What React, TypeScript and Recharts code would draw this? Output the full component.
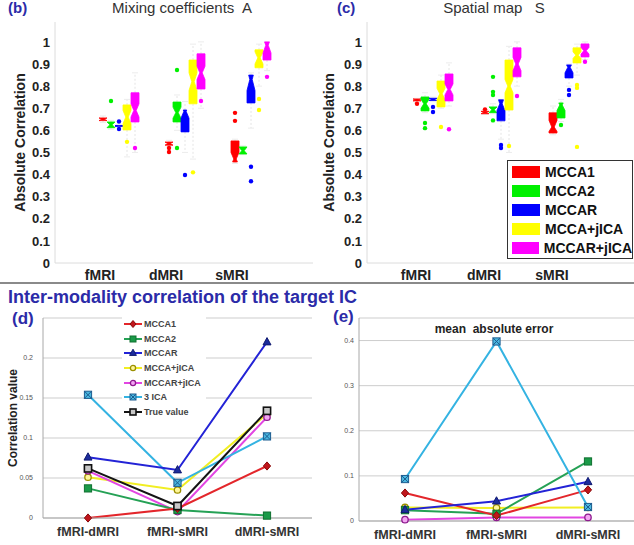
import React from 'react';
import { BarChart, Bar, XAxis, YAxis, Legend, LineChart, Line, CartesianGrid } from 'recharts';

const modalities = ['fMRI', 'dMRI', 'sMRI'];
const methods = ['MCCA1', 'MCCA2', 'MCCAR', 'MCCA+jICA', 'MCCAR+jICA'];
const methodColors = ['#ff0000', '#00f000', '#0000ff', '#ffff00', '#ff00ff'];
const corrTicks = [0, 0.1, 0.2, 0.3, 0.4, 0.5, 0.6, 0.7, 0.8, 0.9, 1];

// per method, per modality: [whisker low, q1, notch low, median, notch high, q3, whisker high]
const mixingBoxes = [
  [[0.635, 0.644, 0.644, 0.65, 0.656, 0.656, 0.665], [0.525, 0.533, 0.533, 0.54, 0.547, 0.547, 0.555], [0.45, 0.457, 0.44, 0.47, 0.5, 0.552, 0.56]],
  [[0.605, 0.612, 0.612, 0.625, 0.638, 0.638, 0.645], [0.6, 0.638, 0.655, 0.68, 0.705, 0.728, 0.76], [0.49, 0.493, 0.493, 0.508, 0.525, 0.525, 0.53]],
  [[0.615, 0.618, 0.618, 0.62, 0.622, 0.622, 0.625], [0.5, 0.593, 0.655, 0.685, 0.72, 0.692, 0.73], [0.61, 0.724, 0.78, 0.83, 0.88, 0.85, 0.86]],
  [[0.48, 0.602, 0.63, 0.66, 0.69, 0.715, 0.74], [0.47, 0.72, 0.78, 0.82, 0.86, 0.918, 0.99], [0.8, 0.883, 0.9, 0.928, 0.955, 0.964, 0.99]],
  [[0.5, 0.638, 0.66, 0.69, 0.72, 0.77, 0.86], [0.7, 0.787, 0.83, 0.86, 0.89, 0.946, 1.0], [0.87, 0.918, 0.95, 0.985, 1.02, 1.0, 1.0]],
];
const mixingOutliers = [
  [[], [0.52, 0.502], [0.679, 0.643]],
  [[0.733], [0.873, 0.52], []],
  [[0.64, 0.606], [0.398], [0.435, 0.37]],
  [[0.548], [0.41], [0.742, 0.692]],
  [[0.52], [0.733], [0.842]],
];

const spatialBoxes = [
  [[0.725, 0.733, 0.733, 0.738, 0.742, 0.742, 0.745], [0.672, 0.675, 0.675, 0.68, 0.686, 0.686, 0.69], [0.58, 0.588, 0.595, 0.615, 0.645, 0.679, 0.71]],
  [[0.68, 0.688, 0.7, 0.72, 0.74, 0.751, 0.77], [0.675, 0.68, 0.68, 0.693, 0.706, 0.706, 0.72], [0.64, 0.656, 0.69, 0.715, 0.74, 0.724, 0.74]],
  [[0.73, 0.735, 0.735, 0.74, 0.745, 0.745, 0.75], [0.56, 0.643, 0.69, 0.72, 0.76, 0.738, 0.74], [0.8, 0.837, 0.86, 0.885, 0.91, 0.896, 0.9]],
  [[0.7, 0.706, 0.74, 0.765, 0.79, 0.823, 0.85], [0.5, 0.692, 0.77, 0.8, 0.83, 0.918, 0.98], [0.85, 0.905, 0.925, 0.94, 0.955, 0.973, 0.99]],
  [[0.71, 0.733, 0.76, 0.785, 0.81, 0.855, 0.905], [0.8, 0.842, 0.87, 0.9, 0.93, 0.973, 1.0], [0.92, 0.932, 0.945, 0.96, 0.975, 0.991, 1.0]],
];
const spatialOutliers = [
  [[0.72], [0.695], []],
  [[0.633, 0.61], [0.842, 0.774, 0.76, 0.645], [0.624]],
  [[0.706, 0.683], [0.534, 0.52], [0.783, 0.76]],
  [[0.615], [0.529], [0.805, 0.792, 0.525]],
  [[0.605], [0.755], [0.91]],
];

// inter-modality correlation (d)
const pairs = ['fMRI-dMRI', 'fMRI-sMRI', 'dMRI-sMRI'];
const corrMCCA1 = [0, 0.012, 0.065];
const corrMCCA2 = [0.037, 0.01, 0.003];
const corrMCCAR = [0.076, 0.06, 0.22];
const corrMCCAjICA = [0.051, 0.035, 0.13];
const corrMCCARjICA = [0.059, 0.008, 0.126];
const corr3ICA = [0.154, 0.044, 0.102];
const corrTrue = [0.062, 0.015, 0.134];

// mean absolute error (e)
const maeMCCA1 = [0.062, 0.012, 0.069];
const maeMCCA2 = [0.024, 0.016, 0.132];
const maeMCCAR = [0.025, 0.044, 0.087];
const maeMCCAjICA = [0.03, 0.029, 0.03];
const maeMCCARjICA = [0.003, 0.008, 0.008];
const mae3ICA = [0.093, 0.398, 0.031];

const lineNames = ['MCCA1', 'MCCA2', 'MCCAR', 'MCCA+jICA', 'MCCAR+jICA', '3 ICA', 'True value'];
const lineColors = ['#e3262b', '#25a155', '#2323d6', '#f1ee23', '#e246e2', '#34b3e2', '#141414'];
const markerKinds = ['diamond', 'square', 'triangle', 'circle', 'circle', 'xsquare', 'osquare'];
const markerFills = ['#c0161c', '#1a9a48', '#1c2c9c', '#fff79a', '#f3a6f3', '#4ab8e0', '#c8c8c8'];
const markerStrokes = ['#8a0a0a', '#107030', '#101a70', '#9b8f00', '#8e1a8e', '#1d5c90', '#111111'];

const corrValues = [corrMCCA1, corrMCCA2, corrMCCAR, corrMCCAjICA, corrMCCARjICA, corr3ICA, corrTrue];
const maeValues = [maeMCCA1, maeMCCA2, maeMCCAR, maeMCCAjICA, maeMCCARjICA, mae3ICA];

const font = "'Liberation Sans', Arial, sans-serif";
const blue = '#2b2ba8';

function boxRows(boxes: number[][][], outliers: number[][][]) {
  return modalities.map((modality, j) => {
    const row: any = { modality };
    methods.forEach((_, i) => {
      row['range' + i] = [boxes[i][j][1], boxes[i][j][5]];
      row['stats' + i] = boxes[i][j];
      row['out' + i] = outliers[i][j];
    });
    return row;
  });
}

function lineRows(values: number[][], count: number) {
  return pairs.map((pair, j) => {
    const row: any = { pair };
    for (let i = 0; i < count; i++) row[lineNames[i]] = values[i][j];
    return row;
  });
}

function NotchedBox(props: any) {
  const { x, y, width, height, payload, idx, color } = props;
  const [wlo, q1, nlo, med, nhi, q3, whi] = payload['stats' + idx];
  const outs: number[] = payload['out' + idx];
  const py = (v: number) => y + (height * (q3 - v)) / (q3 - q1);
  const cx = x + width / 2;
  const half = width / 2;
  const narrow = half * 0.3;
  const hw = (v: number) => {
    if (v <= nlo || v >= nhi) return half;
    if (v <= med) return half - (half - narrow) * ((v - nlo) / (med - nlo));
    return narrow + (half - narrow) * ((v - med) / (nhi - med));
  };
  const levels = [q1, nlo, med, nhi, q3].filter((v) => v >= q1 && v <= q3).sort((a, b) => a - b);
  const left = levels.map((v) => `${cx - hw(v)},${py(v)}`);
  const right = levels.slice().reverse().map((v) => `${cx + hw(v)},${py(v)}`);
  return (
    <g>
      <line x1={cx} x2={cx} y1={py(q3)} y2={py(whi)} stroke="#e4e4e4" strokeDasharray="2 2" />
      <line x1={cx} x2={cx} y1={py(q1)} y2={py(wlo)} stroke="#e4e4e4" strokeDasharray="2 2" />
      <line x1={cx - 3} x2={cx + 3} y1={py(whi)} y2={py(whi)} stroke="#ececec" />
      <line x1={cx - 3} x2={cx + 3} y1={py(wlo)} y2={py(wlo)} stroke="#ececec" />
      <polygon points={[...left, ...right].join(' ')} fill={color} stroke={color} strokeWidth={0.8} />
      {outs.map((v, k) => (
        <circle key={k} cx={cx} cy={py(v)} r={2.2} fill={color} />
      ))}
    </g>
  );
}

function BoxTick(props: any) {
  const { x, y, payload, shift } = props;
  return (
    <text x={x + shift} y={y + 17} textAnchor="middle" fontSize={14} fontWeight="bold" fill="#222">
      {payload.value}
    </text>
  );
}

function BoxPanel(props: any) {
  const { rows, axisWidth, right, padLeft, padRight, shift, labelOffset, showLegend } = props;
  return (
    <BarChart width={317} height={283} data={rows} margin={{ top: 22, right, bottom: 0, left: 0 }} barSize={8} barGap={0}>
      <XAxis
        dataKey="modality"
        height={20}
        interval={0}
        padding={{ left: padLeft, right: padRight }}
        tickLine={false}
        tickSize={0}
        tickMargin={0}
        axisLine={{ stroke: '#dcdcdc' }}
        tick={<BoxTick shift={shift} />}
      />
      <XAxis xAxisId="frame" orientation="top" height={0} tick={false} tickLine={false} axisLine={{ stroke: '#e4e4e4' }} />
      <YAxis
        width={axisWidth}
        domain={[0, 1.09]}
        ticks={corrTicks}
        tickLine={false}
        tickSize={0}
        tickMargin={5}
        axisLine={{ stroke: '#dcdcdc' }}
        tick={{ fontSize: 13, fontWeight: 'bold', fill: '#222' }}
        label={{
          value: 'Absolute Correlation',
          angle: -90,
          position: 'insideLeft',
          offset: labelOffset,
          style: { textAnchor: 'middle', fontSize: 14, fontWeight: 'bold', fill: '#222' },
        }}
      />
      {methods.map((m, i) => (
        <Bar
          key={m}
          dataKey={'range' + i}
          name={m}
          fill={methodColors[i]}
          isAnimationActive={false}
          shape={(p: any) => <NotchedBox {...p} idx={i} color={methodColors[i]} />}
        />
      ))}
      {showLegend && (
        <Legend
          layout="vertical"
          align="center"
          verticalAlign="middle"
          wrapperStyle={{ left: 190, top: 160, width: 126 }}
          content={() => (
            <div style={{ border: '1px solid #333', background: '#fff', padding: '2px 0 1px 4px', fontFamily: font }}>
              {methods.map((m, i) => (
                <div key={m} style={{ display: 'flex', alignItems: 'center', height: 18.8 }}>
                  <span style={{ display: 'inline-block', width: 28, height: 12, background: methodColors[i], marginRight: 5 }} />
                  <span style={{ fontSize: 14, fontWeight: 'bold', color: '#111' }}>{m}</span>
                </div>
              ))}
            </div>
          )}
        />
      )}
    </BarChart>
  );
}

function Marker(props: any) {
  const { kind, cx, cy, fill, stroke, s = 3.6 } = props;
  if (cx == null || cy == null) return null;
  switch (kind) {
    case 'diamond':
      return <polygon points={`${cx},${cy - s - 0.5} ${cx + s},${cy} ${cx},${cy + s + 0.5} ${cx - s},${cy}`} fill={fill} stroke={stroke} />;
    case 'square':
      return <rect x={cx - s} y={cy - s} width={2 * s} height={2 * s} fill={fill} stroke={stroke} />;
    case 'triangle':
      return <polygon points={`${cx},${cy - s - 0.8} ${cx + s + 0.4},${cy + s * 0.8} ${cx - s - 0.4},${cy + s * 0.8}`} fill={fill} stroke={stroke} />;
    case 'circle':
      return <circle cx={cx} cy={cy} r={s - 0.4} fill={fill} stroke={stroke} strokeWidth={1.3} />;
    case 'xsquare':
      return (
        <g>
          <rect x={cx - s} y={cy - s} width={2 * s} height={2 * s} fill={fill} stroke={stroke} />
          <line x1={cx - s} y1={cy - s} x2={cx + s} y2={cy + s} stroke={stroke} />
          <line x1={cx - s} y1={cy + s} x2={cx + s} y2={cy - s} stroke={stroke} />
        </g>
      );
    default:
      return <rect x={cx - s} y={cy - s} width={2 * s} height={2 * s} fill={fill} stroke={stroke} strokeWidth={1.6} />;
  }
}

function PairTick(props: any) {
  const { x, y, payload } = props;
  return (
    <text x={x} y={y + 18} textAnchor="middle" fontSize={12.5} fontWeight="bold" fill="#333">
      {payload.value}
    </text>
  );
}

function LinePanel(props: any) {
  const { rows, order, domain, ticks, axisWidth, right, pad, xHeight, tickMargin, yLabel, legend } = props;
  return (
    <LineChart width={317} height={255} data={rows} margin={{ top: 28, right, bottom: 0, left: 0 }}>
      <CartesianGrid vertical={false} stroke="#cdcdcd" />
      <XAxis
        dataKey="pair"
        scale="point"
        height={xHeight}
        interval={0}
        padding={{ left: pad, right: pad }}
        tickLine={false}
        tickSize={0}
        tickMargin={0}
        axisLine={{ stroke: '#a8a8a8' }}
        tick={<PairTick />}
      />
      <XAxis xAxisId="frame" orientation="top" height={0} tick={false} tickLine={false} axisLine={{ stroke: '#b4b4b4' }} />
      <YAxis
        width={axisWidth}
        domain={domain}
        ticks={ticks}
        tickLine={false}
        tickSize={0}
        tickMargin={tickMargin}
        axisLine={{ stroke: '#a8a8a8' }}
        tick={{ fontSize: 7, fill: '#555' }}
        label={
          yLabel
            ? {
                value: yLabel,
                angle: -90,
                position: 'insideLeft',
                offset: 13,
                style: { textAnchor: 'middle', fontSize: 12, fontWeight: 'bold', fill: '#222' },
              }
            : undefined
        }
      />
      {order.map((i: number) => (
        <Line
          key={lineNames[i]}
          dataKey={lineNames[i]}
          stroke={lineColors[i]}
          strokeWidth={2}
          isAnimationActive={false}
          activeDot={false}
          dot={(p: any) => (
            <Marker
              key={lineNames[i] + p.index}
              kind={markerKinds[i]}
              cx={p.cx}
              cy={p.cy}
              fill={markerFills[i]}
              stroke={markerStrokes[i]}
            />
          )}
        />
      ))}
      {legend && (
        <Legend
          layout="vertical"
          align="center"
          verticalAlign="middle"
          wrapperStyle={{ left: 122, top: 27, width: 84 }}
          content={() => (
            <div style={{ background: '#fff', padding: '0 0 1px 2px', fontFamily: font }}>
              {lineNames.map((n, i) => (
                <div key={n} style={{ display: 'flex', alignItems: 'center', height: 14.6 }}>
                  <svg width={19} height={10} style={{ marginRight: 1 }}>
                    <line x1={0} x2={18} y1={5} y2={5} stroke={lineColors[i]} strokeWidth={2} />
                    <Marker kind={markerKinds[i]} cx={9} cy={5} s={3} fill={markerFills[i]} stroke={markerStrokes[i]} />
                  </svg>
                  <span style={{ fontSize: 9, fontWeight: 'bold', color: '#444' }}>{n}</span>
                </div>
              ))}
            </div>
          )}
        />
      )}
    </LineChart>
  );
}

const abs = (left: number, top: number): React.CSSProperties => ({ position: 'absolute', left, top });

export default function App() {
  const mixingRows = boxRows(mixingBoxes, mixingOutliers);
  const spatialRows = boxRows(spatialBoxes, spatialOutliers);
  const corrRows = lineRows(corrValues, 7);
  const maeRows = lineRows(maeValues, 6);
  const titleStyle: React.CSSProperties = { fontSize: 15, fontWeight: 'bold', color: blue, lineHeight: 1 };
  return (
    <div style={{ position: 'absolute', left: 0, top: 0, width: 634, height: 545, background: '#fff', fontFamily: font, overflow: 'hidden' }}>
      <div style={abs(0, 0)}>
        <BoxPanel rows={mixingRows} axisWidth={55} right={4} padLeft={31} padRight={29} shift={-19} labelOffset={20} />
      </div>
      <div style={abs(317, 0)}>
        <BoxPanel rows={spatialRows} axisWidth={50} right={0} padLeft={32} padRight={31} shift={-17} labelOffset={12} showLegend />
      </div>
      <div style={{ ...abs(8, 0), ...titleStyle }}>(b)</div>
      <div style={{ ...abs(337, 0), ...titleStyle }}>(c)</div>
      <div style={{ ...abs(82, 0), width: 200, textAlign: 'center', fontSize: 15, color: '#333', lineHeight: 1, whiteSpace: 'pre' }}>
        {'Mixing coefficients  A'}
      </div>
      <div style={{ ...abs(394, 0), width: 200, textAlign: 'center', fontSize: 15, color: '#333', lineHeight: 1, whiteSpace: 'pre' }}>
        {'Spatial map   S'}
      </div>
      <div style={{ ...abs(0, 282), width: 634, height: 0, borderTop: '2px solid #8a8a8a' }} />
      <div style={{ ...abs(8, 288), fontSize: 18, fontWeight: 'bold', color: blue, lineHeight: 1, whiteSpace: 'nowrap' }}>
        Inter-modality correlation of the target IC
      </div>
      <div style={abs(0, 290)}>
        <LinePanel
          rows={corrRows}
          order={[3, 4, 1, 0, 5, 2, 6]}
          domain={[0, 0.25]}
          ticks={[0, 0.05, 0.1, 0.15, 0.2]}
          axisWidth={43}
          right={5}
          pad={45}
          xHeight={27}
          tickMargin={10}
          yLabel="Correlation value"
          legend
        />
      </div>
      <div style={{ ...abs(317, 290) }}>
        <LinePanel
          rows={maeRows}
          order={[3, 4, 1, 0, 2, 5]}
          domain={[0, 0.45]}
          ticks={[0, 0.1, 0.2, 0.3, 0.4]}
          axisWidth={42}
          right={0}
          pad={46}
          xHeight={24}
          tickMargin={5}
        />
      </div>
      <div style={{ ...abs(12, 310), ...titleStyle, fontSize: 17 }}>(d)</div>
      <div style={{ ...abs(333, 308), ...titleStyle, fontSize: 17 }}>(e)</div>
      <div style={{ ...abs(394, 323), width: 200, textAlign: 'center', fontSize: 12, fontWeight: 'bold', color: '#222', lineHeight: 1, whiteSpace: 'pre' }}>
        {'mean  absolute error'}
      </div>
    </div>
  );
}
